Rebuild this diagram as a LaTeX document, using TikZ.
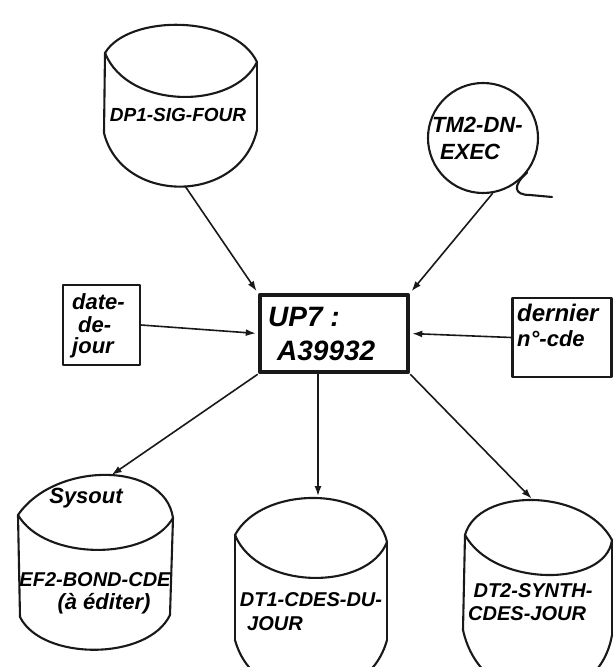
\documentclass[tikz,border=0pt]{standalone}
\usepackage{fontspec}
\setmainfont{Liberation Sans}
\usetikzlibrary{arrows.meta}
\begin{document}
\begin{tikzpicture}[x=1pt,y=-1pt,
  ink/.style={draw=black!90, line width=2.1pt, line join=round, line cap=round},
  link/.style={draw=black!90, line width=1.6pt, -{Latex[length=10pt,width=7pt]}, shorten >=2pt},
  frm/.style={ink, rectangle, inner sep=0pt},
  hand/.style={font=\fontsize{20}{22}\selectfont\bfseries\itshape, inner sep=0pt},
  handl/.style={font=\fontsize{22}{24}\selectfont\bfseries\itshape, inner sep=0pt},
  big/.style={font=\fontsize{28}{30}\selectfont\bfseries\itshape, inner sep=0pt},
]
\useasboundingbox (0,0) rectangle (614,667);
\fill[white] (0,0) rectangle (614,667);
\clip (0,0) rectangle (614,667);

% central process box
\node[frm, line width=4.5pt, minimum width=148pt, minimum height=77pt] (up7) at (334,333.5) {};
\node[big, anchor=base west] (up7a) at (268,326) {UP7 :};
\node[big, anchor=base west] (up7b) at (277,360) {A39932};

% DP1 cylinder
\draw[ink] (105,53) .. controls (128,14) and (234,14) .. (257,62);
\draw[ink] (105,53) .. controls (128,110) and (234,110) .. (257,62);
\draw[ink] (105,53) -- (104,133);
\draw[ink] (257,62) -- (257,130);
\draw[ink] (104,133) .. controls (122,205) and (240,205) .. (257,130);
\node[hand, font=\fontsize{19}{21}\selectfont\bfseries\itshape] (dp1) at (178,115) {DP1-SIG-FOUR};
\coordinate (dp1b) at (185,186);

% TM2 circle
\node[ink, circle, minimum size=110pt, inner sep=0pt] (tm2) at (483,138) {};
\coordinate (tail) at (552,197);
\draw[ink] (tm2.-38) .. controls (512,186) and (514,195) .. (530,195) -- (tail);
\node[handl, anchor=west] (tm2a) at (432,125) {TM2-DN-};
\node[handl, anchor=west] (tm2b) at (440,152) {EXEC};

% date box
\node[frm, minimum width=77pt, minimum height=80pt] (date) at (101.5,325) {};
\node[handl, anchor=west] (date1) at (72,302) {date-};
\node[handl, anchor=west] (date2) at (78,325) {de-};
\node[handl, anchor=west] (date3) at (72,348) {jour};

% dernier box
\node[frm, minimum width=99pt, minimum height=79pt] (dern) at (562,337.5) {};
\node[handl, font=\fontsize{24}{26}\selectfont\bfseries\itshape, anchor=west] (dern1) at (517,313) {dernier};
\node[handl, anchor=west] (dern2) at (517,339) {n°-cde};

% Sysout cylinder
\draw[ink] (18,515) .. controls (55,461) and (165,461) .. (173,518);
\draw[ink] (18,515) .. controls (45,561) and (148,561) .. (173,518);
\draw[ink] (18,515) -- (20,617);
\draw[ink] (173,518) -- (170,615);
\draw[ink] (20,617) .. controls (42,661) and (148,661) .. (170,615);
\coordinate (systop) at (110,476);
\node[handl] (sys1) at (86,498) {Sysout};
\node[hand] (sys2) at (95,580) {EF2-BOND-CDE};
\node[handl] (sys3) at (104,604) {(à éditer)};

% DT1 cylinder
\draw[ink] (235,535) .. controls (262,484.5) and (374,484.5) .. (387,542);
\draw[ink] (235,535) .. controls (258,591) and (368,591) .. (387,542);
\draw[ink] (235,535) -- (235,640);
\draw[ink] (387,542) -- (387,640);
\draw[ink] (235,640) .. controls (255,713) and (367,713) .. (387,640);
\coordinate (dt1top) at (318,498);
\node[hand] (dt1a) at (311,600) {DT1-CDES-DU-};
\node[hand, anchor=west] (dt1b) at (247,624) {JOUR};

% DT2 cylinder
\draw[ink] (465,535) .. controls (478,487.5) and (584,487.5) .. (612,540);
\draw[ink] (465,535) .. controls (494,587.5) and (606,587.5) .. (612,540);
\draw[ink] (465,535) -- (463,630);
\draw[ink] (612,540) -- (612,635);
\draw[ink] (463,630) .. controls (482,716) and (598,716) .. (612,635);
\coordinate (dt2top) at (533,500);
\node[hand] (dt2a) at (533,591) {DT2-SYNTH-};
\node[hand, anchor=west] (dt2b) at (468,614) {CDES-JOUR};

% connectors
\draw[link] (dp1b) -- (up7.north west);
\draw[link] (tm2.-80) -- (up7.north east);
\draw[link] (date.east) -- (up7.west);
\draw[link] (dern.west) -- (up7.east);
\draw[link] (up7.south west) -- (systop);
\draw[link] (up7.south -| dt1top) -- (dt1top);
\draw[link] (up7.south east) -- (dt2top);
\end{tikzpicture}
\end{document}
